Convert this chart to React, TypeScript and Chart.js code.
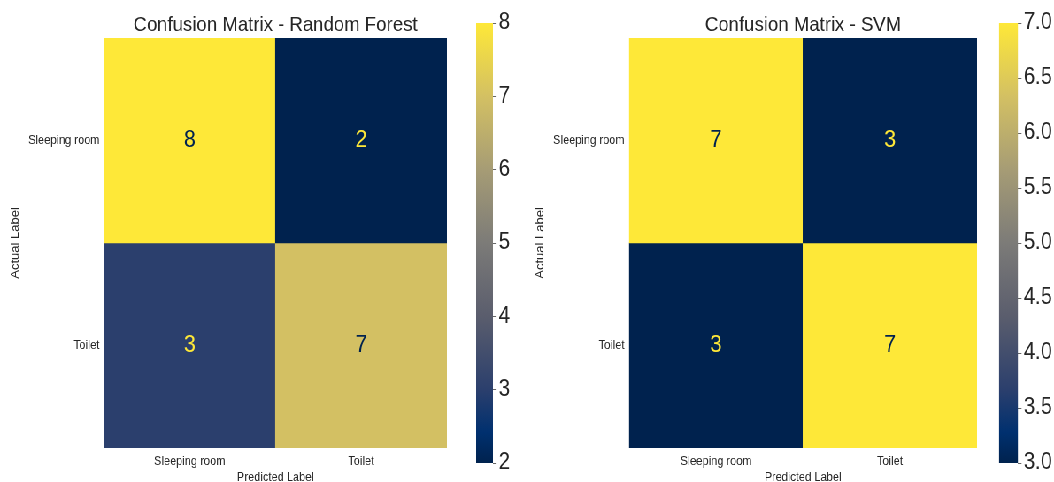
import React, { useEffect, useRef } from "react";
import { Chart, registerables } from "chart.js";

Chart.register(...registerables);

// ---- data -------------------------------------------------------------
const predictedLabels = ["Sleeping room", "Toilet"];
const actualLabels = ["Sleeping room", "Toilet"];

const rfTitle = "Confusion Matrix - Random Forest";
const svmTitle = "Confusion Matrix - SVM";

// rows = actual class, columns = predicted class
const rfMatrix = [
  [8, 2],
  [3, 7],
];
const svmMatrix = [
  [7, 3],
  [3, 7],
];

const rfColorbarTicks = [2, 3, 4, 5, 6, 7, 8];
const svmColorbarTicks = [3.0, 3.5, 4.0, 4.5, 5.0, 5.5, 6.0, 6.5, 7.0];

// ---- styling ----------------------------------------------------------
const FONT = "'Liberation Sans', Arial, Helvetica, sans-serif";
const TEXT = "#262626";
const SX = 0.885; // horizontal condensing of the whole figure
const VW = 1054 / SX;
const VH = 482;

// cividis colormap stops
const CIVIDIS: [number, string][] = [
  [0.0, "#00224e"],
  [0.07, "#00306f"],
  [0.1667, "#2b3f6d"],
  [0.333, "#5a5d6d"],
  [0.5, "#7c7b78"],
  [0.667, "#a69c75"],
  [0.833, "#d3c063"],
  [1.0, "#fee838"],
];

function hexToRgb(h: string) {
  const n = parseInt(h.slice(1), 16);
  return [(n >> 16) & 255, (n >> 8) & 255, n & 255];
}

function cividis(t: number) {
  const v = Math.min(1, Math.max(0, t));
  for (let i = 1; i < CIVIDIS.length; i++) {
    const [t1, c1] = CIVIDIS[i];
    const [t0, c0] = CIVIDIS[i - 1];
    if (v <= t1) {
      const f = (v - t0) / (t1 - t0);
      const a = hexToRgb(c0);
      const b = hexToRgb(c1);
      const m = a.map((x, k) => Math.round(x + (b[k] - x) * f));
      return `rgb(${m[0]},${m[1]},${m[2]})`;
    }
  }
  return CIVIDIS[CIVIDIS.length - 1][1];
}

function range(matrix: number[][]) {
  const flat = matrix.flat();
  return [Math.min(...flat), Math.max(...flat)];
}

// Writes each cell's count in the middle of its bar
const cellLabels = {
  id: "cellLabels",
  afterDatasetsDraw(chart: any, _args: any, opts: any) {
    const matrix: number[][] = opts.matrix;
    if (!matrix) return;
    const [vmin, vmax] = range(matrix);
    const { ctx } = chart;
    ctx.save();
    ctx.font = `24px ${FONT}`;
    ctx.textAlign = "center";
    ctx.textBaseline = "middle";
    chart.data.datasets.forEach((_ds: any, r: number) => {
      const meta = chart.getDatasetMeta(r);
      meta.data.forEach((bar: any, c: number) => {
        const v = matrix[r][c];
        const t = (v - vmin) / (vmax - vmin);
        const { x, y, base } = bar.getProps(["x", "y", "base"], true);
        ctx.fillStyle = t > 0.5 ? "#00224e" : "#fee838";
        ctx.fillText(String(v), x, (y + base) / 2);
      });
    });
    ctx.restore();
  },
};

function heatmapConfig(matrix: number[][], title: string, pad: { left: number; right: number }) {
  const [vmin, vmax] = range(matrix);
  const datasets = actualLabels.map((rowLabel, r) => ({
    label: rowLabel,
    data: predictedLabels.map(() => [r, r + 1]),
    backgroundColor: predictedLabels.map((_, c) => cividis((matrix[r][c] - vmin) / (vmax - vmin))),
    borderWidth: 0,
    grouped: false,
    barPercentage: 1,
    categoryPercentage: 1,
  }));
  return {
    type: "bar",
    data: { labels: predictedLabels, datasets },
    plugins: [cellLabels],
    options: {
      animation: false,
      responsive: false,
      events: [],
      layout: { padding: { left: pad.left, right: pad.right, top: 0, bottom: 0 } },
      plugins: {
        legend: { display: false },
        tooltip: { enabled: false },
        title: {
          display: true,
          text: title,
          fullSize: false,
          color: TEXT,
          font: { family: FONT, size: 21, weight: "normal", lineHeight: 1.2 },
          padding: { top: 12.4, bottom: 0.4 },
        },
        cellLabels: { matrix },
      },
      scales: {
        x: {
          type: "category",
          offset: true,
          grid: { display: false, drawTicks: false },
          border: { display: false },
          ticks: { color: TEXT, font: { family: FONT, size: 12.5 }, padding: 6 },
          title: {
            display: true,
            text: "Predicted Label",
            color: TEXT,
            font: { family: FONT, size: 12.5, lineHeight: 1 },
            padding: { top: 0, bottom: -1.5 },
          },
          afterFit: (s: any) => {
            s.height = 34;
          },
        },
        y: {
          type: "linear",
          min: 0,
          max: actualLabels.length,
          reverse: true,
          grid: { display: false, drawTicks: false },
          border: { display: false },
          afterBuildTicks: (s: any) => {
            s.ticks = actualLabels.map((_, i) => ({ value: i + 0.5 }));
          },
          ticks: {
            color: TEXT,
            font: { family: FONT, size: 12.5 },
            padding: 5,
            autoSkip: false,
            callback: (v: any) => actualLabels[Math.floor(Number(v))],
          },
          title: {
            display: true,
            text: "Actual Label",
            color: TEXT,
            font: { family: FONT, size: 13, lineHeight: 1.2 },
            padding: { top: 4, bottom: 4 },
          },
          afterFit: (s: any) => {
            s.width = 112;
          },
        },
      },
    },
  };
}

function colorbarConfig(
  matrix: number[][],
  ticks: number[],
  decimals: number,
  pad: { left: number; right: number },
  axisWidth: number
) {
  const [vmin, vmax] = range(matrix);
  return {
    type: "bar",
    data: {
      labels: [""],
      datasets: [
        {
          data: [[vmin, vmax]],
          backgroundColor: (ctx: any) => {
            const { chart } = ctx;
            const area = chart.chartArea;
            if (!area) return "#7c7b78";
            const g = chart.ctx.createLinearGradient(0, area.bottom, 0, area.top);
            CIVIDIS.forEach(([t, c]) => g.addColorStop(t, c));
            return g;
          },
          borderWidth: 0,
          barPercentage: 1,
          categoryPercentage: 1,
        },
      ],
    },
    options: {
      animation: false,
      responsive: false,
      events: [],
      layout: { padding: { left: pad.left, right: pad.right, top: 23, bottom: 19 } },
      plugins: {
        legend: { display: false },
        tooltip: { enabled: false },
        title: { display: false },
      },
      scales: {
        x: { display: false },
        y: {
          position: "right",
          min: vmin,
          max: vmax,
          afterBuildTicks: (s: any) => {
            s.ticks = ticks.map((v) => ({ value: v }));
          },
          grid: { drawOnChartArea: false, drawTicks: true, tickLength: 4, color: "#666666", lineWidth: 1 },
          border: { display: false },
          ticks: {
            color: TEXT,
            font: { family: FONT, size: 23 },
            padding: 2.5,
            autoSkip: false,
            callback: (v: any) => Number(v).toFixed(decimals),
          },
          afterFit: (s: any) => {
            s.width = axisWidth;
          },
        },
      },
    },
  };
}

function ChartCanvas({ config, left, width }: { config: any; left: number; width: number }) {
  const ref = useRef<HTMLCanvasElement | null>(null);
  useEffect(() => {
    if (!ref.current) return;
    const chart = new Chart(ref.current, config);
    return () => chart.destroy();
  }, [config]);
  return (
    <canvas
      ref={ref}
      width={width}
      height={VH}
      style={{ position: "absolute", left, top: 0 }}
    />
  );
}

const rfHeatmap = heatmapConfig(rfMatrix, rfTitle, { left: 5.5, right: 25 });
const rfColorbar = colorbarConfig(rfMatrix, rfColorbarTicks, 0, { left: 7.9, right: 6.9 }, 36);
const svmHeatmap = heatmapConfig(svmMatrix, svmTitle, { left: 8.7, right: 16 });
const svmColorbar = colorbarConfig(svmMatrix, svmColorbarTicks, 1, { left: 8.8, right: 0 }, 40.7);

export default function App() {
  return (
    <div
      style={{
        position: "absolute",
        left: 0,
        top: 0,
        width: 1054,
        height: VH,
        overflow: "hidden",
        background: "#ffffff",
      }}
    >
      <div
        style={{
          position: "absolute",
          left: 0,
          top: 0,
          width: VW,
          height: VH,
          transform: `scaleX(${SX})`,
          transformOrigin: "0 0",
        }}
      >
        <ChartCanvas config={rfHeatmap} left={0} width={530} />
        <ChartCanvas config={rfColorbar} left={530} width={70} />
        <ChartCanvas config={svmHeatmap} left={590} width={530} />
        <ChartCanvas config={svmColorbar} left={1120} width={71} />
      </div>
    </div>
  );
}
